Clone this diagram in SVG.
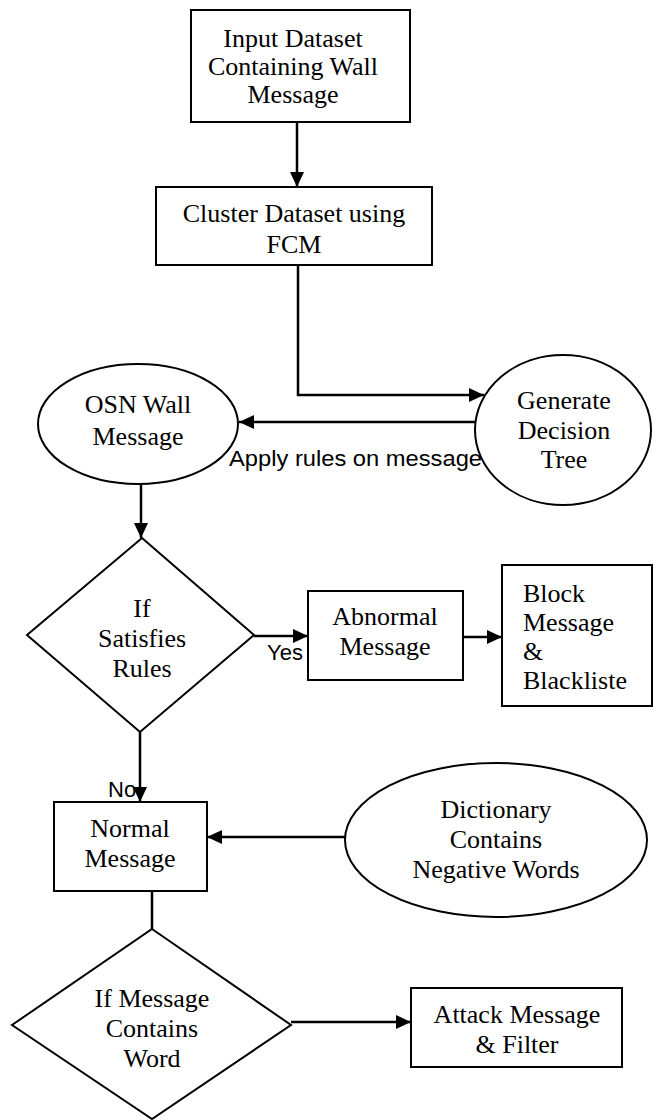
<svg xmlns="http://www.w3.org/2000/svg" width="654" height="1120" viewBox="0 0 654 1120">
  <defs>
    <marker id="arrow" markerUnits="userSpaceOnUse" markerWidth="16" markerHeight="16" refX="15" refY="8" orient="auto">
      <path d="M0,1 L15,8 L0,15 z" fill="#000"/>
    </marker>
    <style>
      .shape { fill: #fff; stroke: #000; stroke-width: 2; }
      .conn { fill: none; stroke: #000; stroke-width: 2.5; }
      .lbl { font-family: "Liberation Serif", "Times New Roman", serif; font-size: 26px; fill: #000; text-anchor: middle; }
      .lbl-left { font-family: "Liberation Serif", "Times New Roman", serif; font-size: 26px; fill: #000; }
      .note { font-family: "Liberation Sans", Arial, sans-serif; font-size: 22px; fill: #000; }
    </style>
  </defs>

  <rect width="654" height="1120" fill="#fff"/>

  <!-- connectors -->
  <g id="connectors">
    <line class="conn" x1="297" y1="122" x2="297" y2="187" marker-end="url(#arrow)"/>
    <polyline class="conn" points="298,265 298,395 484,395" marker-end="url(#arrow)"/>
    <line class="conn" x1="476" y1="422" x2="239" y2="422" marker-end="url(#arrow)"/>
    <line class="conn" x1="141" y1="485" x2="141" y2="538" marker-end="url(#arrow)"/>
    <line class="conn" x1="254" y1="636" x2="308" y2="636" marker-end="url(#arrow)"/>
    <line class="conn" x1="463" y1="637" x2="502" y2="637" marker-end="url(#arrow)"/>
    <line class="conn" x1="140" y1="732" x2="140" y2="802" marker-end="url(#arrow)"/>
    <line class="conn" x1="345" y1="837" x2="207" y2="837" marker-end="url(#arrow)"/>
    <line class="conn" x1="152" y1="891" x2="152" y2="929"/>
    <line class="conn" x1="291" y1="1022" x2="411" y2="1022" marker-end="url(#arrow)"/>
    <text class="note" x="229" y="466" textLength="253" lengthAdjust="spacingAndGlyphs">Apply rules on message</text>
    <text class="note" x="267" y="660">Yes</text>
    <text class="note" x="108" y="797">No</text>
  </g>

  <g id="input-dataset">
    <rect class="shape" x="191" y="10" width="219" height="112"/>
    <text class="lbl" x="293" y="47">Input Dataset</text>
    <text class="lbl" x="293" y="75">Containing Wall</text>
    <text class="lbl" x="293" y="103">Message</text>
  </g>

  <g id="cluster-dataset">
    <rect class="shape" x="156" y="187" width="276" height="78"/>
    <text class="lbl" x="294" y="222">Cluster Dataset using</text>
    <text class="lbl" x="294" y="253">FCM</text>
  </g>

  <g id="decision-tree">
    <ellipse class="shape" cx="563" cy="430" rx="88" ry="75"/>
    <text class="lbl" x="564" y="409">Generate</text>
    <text class="lbl" x="564" y="439">Decision</text>
    <text class="lbl" x="564" y="468">Tree</text>
  </g>

  <g id="osn-wall-message">
    <ellipse class="shape" cx="138" cy="424" rx="100" ry="60"/>
    <text class="lbl" x="138" y="413">OSN Wall</text>
    <text class="lbl" x="138" y="445">Message</text>
  </g>

  <g id="satisfies-rules">
    <polygon class="shape" points="142,538 254,635 140,732 27,635"/>
    <text class="lbl" x="142" y="617">If</text>
    <text class="lbl" x="142" y="647">Satisfies</text>
    <text class="lbl" x="142" y="677">Rules</text>
  </g>

  <g id="abnormal-message">
    <rect class="shape" x="308" y="591" width="155" height="89"/>
    <text class="lbl" x="385" y="625">Abnormal</text>
    <text class="lbl" x="385" y="655">Message</text>
  </g>

  <g id="block-message">
    <rect class="shape" x="502" y="565" width="150" height="141"/>
    <text class="lbl-left" x="523" y="602">Block</text>
    <text class="lbl-left" x="523" y="631">Message</text>
    <text class="lbl-left" x="523" y="660">&amp;</text>
    <text class="lbl-left" x="523" y="689">Blackliste</text>
  </g>

  <g id="normal-message">
    <rect class="shape" x="54" y="802" width="153" height="89"/>
    <text class="lbl" x="130" y="837">Normal</text>
    <text class="lbl" x="130" y="867">Message</text>
  </g>

  <g id="dictionary">
    <ellipse class="shape" cx="496" cy="840" rx="151" ry="77"/>
    <text class="lbl" x="496" y="818">Dictionary</text>
    <text class="lbl" x="496" y="848">Contains</text>
    <text class="lbl" x="496" y="878">Negative Words</text>
  </g>

  <g id="contains-word">
    <polygon class="shape" points="152,929 291,1025 152,1119 12,1025"/>
    <text class="lbl" x="152" y="1007">If Message</text>
    <text class="lbl" x="152" y="1037">Contains</text>
    <text class="lbl" x="152" y="1067">Word</text>
  </g>

  <g id="attack-message">
    <rect class="shape" x="411" y="988" width="211" height="79"/>
    <text class="lbl" x="517" y="1023">Attack Message</text>
    <text class="lbl" x="517" y="1053">&amp; Filter</text>
  </g>
</svg>
